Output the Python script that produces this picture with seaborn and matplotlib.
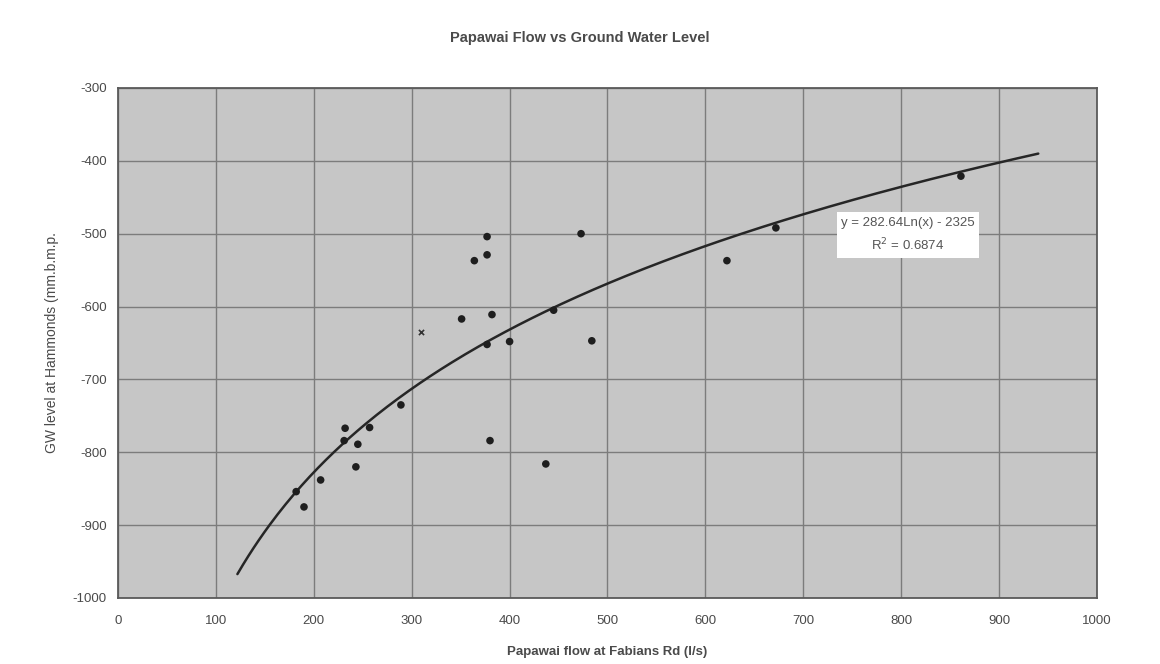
import numpy as np
import pandas as pd
import matplotlib
matplotlib.use("Agg")
import matplotlib.pyplot as plt
import seaborn as sns

# Data
flow = [377, 473, 364, 377, 351, 382, 377, 400, 445, 484, 289, 232, 257, 231, 245,
        243, 380, 437, 207, 182, 190, 672, 622, 861]
gw_level = [-504, -500, -537, -529, -617, -611, -652, -648, -605, -647, -735, -767,
            -766, -784, -789, -820, -784, -816, -838, -854, -875, -492, -537, -421]
extra_flow = [310]
extra_level = [-635]

trend_slope = 282.64
trend_intercept = -2325
trend_range = [122, 940]
equation_text = "y = 282.64Ln(x) - 2325"
r2_text = "R$^2$ = 0.6874"

x_ticks = list(range(0, 1001, 100))
y_ticks = list(range(-1000, -299, 100))

sns.set_theme(style="white")
plt.rcParams['font.family'] = ['Liberation Sans', 'DejaVu Sans']
plt.rcParams['axes.unicode_minus'] = False
txt = "#4a4a4a"

fig = plt.figure(figsize=(11.6, 6.64), dpi=100)
ax = fig.add_axes([0.1017, 0.0994, 0.8440, 0.7681])
ax.set_facecolor("#c6c6c6")

df = pd.DataFrame({"flow": flow, "gw": gw_level})
sns.scatterplot(data=df, x="flow", y="gw", ax=ax, color="#1e1e1e", s=30,
                edgecolor="none", zorder=4)
ax.scatter(extra_flow, extra_level, marker="x", s=14, color="#333333", linewidth=1.2, zorder=4)

xs = np.linspace(trend_range[0], trend_range[1], 300)
ys = trend_slope * np.log(xs) + trend_intercept
sns.lineplot(x=xs, y=ys, ax=ax, color="#262626", linewidth=1.8, zorder=3)

ax.set_xlim(0, 1000)
ax.set_ylim(-1000, -300)
ax.set_xticks(x_ticks)
ax.set_yticks(y_ticks)
ax.grid(True, color="#7c7c7c", linewidth=1.0)
ax.set_axisbelow(True)
for sp in ax.spines.values():
    sp.set_color("#5a5a5a")
    sp.set_linewidth(1.3)

ax.tick_params(axis="both", colors=txt, labelsize=9.5, length=0, pad=8)
ax.tick_params(axis="x", pad=12)
ax.set_xlabel("Papawai flow at Fabians Rd (l/s)", color=txt, fontsize=9.5,
              fontweight="bold", labelpad=14)
ax.set_ylabel("GW level at Hammonds (mm.b.m.p.", color=txt, fontsize=10,
              labelpad=10)

fig.text(0.5, 0.943, "Papawai Flow vs Ground Water Level", ha="center", va="center",
         fontsize=10.5, fontweight="bold", color=txt)

ax.text(807, -502, equation_text + "\n" + r2_text, ha="center", va="center",
        fontsize=9.5, color="#555555", linespacing=1.6, zorder=5,
        bbox=dict(boxstyle="square,pad=0.35", facecolor="white", edgecolor="none"))

fig.savefig("out.png", dpi=100, facecolor="white")
